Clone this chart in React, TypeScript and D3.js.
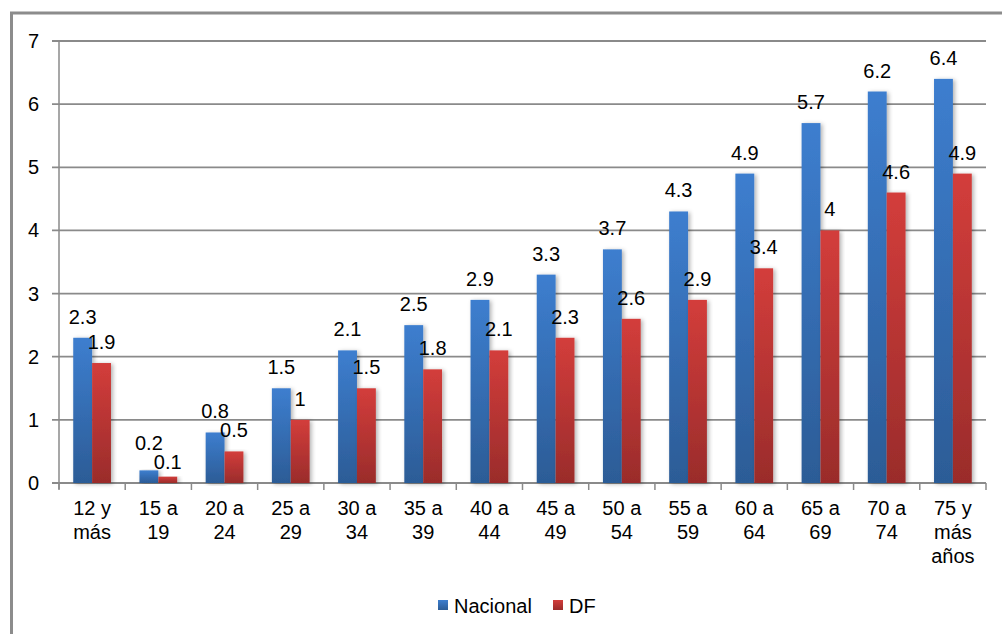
import React from "react";
import * as d3 from "d3";

const categories: string[][] = [
  ["12 y", "más"],
  ["15 a", "19"],
  ["20 a", "24"],
  ["25 a", "29"],
  ["30 a", "34"],
  ["35 a", "39"],
  ["40 a", "44"],
  ["45 a", "49"],
  ["50 a", "54"],
  ["55 a", "59"],
  ["60 a", "64"],
  ["65 a", "69"],
  ["70 a", "74"],
  ["75 y", "más", "años"],
];
const nacional = [2.3, 0.2, 0.8, 1.5, 2.1, 2.5, 2.9, 3.3, 3.7, 4.3, 4.9, 5.7, 6.2, 6.4];
const df = [1.9, 0.1, 0.5, 1, 1.5, 1.8, 2.1, 2.3, 2.6, 2.9, 3.4, 4, 4.6, 4.9];
const seriesNames = ["Nacional", "DF"];
const yTicks = [0, 1, 2, 3, 4, 5, 6, 7];

const W = 1002;
const H = 634;
const left = 59;
const right = 986;
const top = 41;
const bottom = 483;
const FONT = "'Liberation Sans', Arial, sans-serif";
const LABEL_GAP = 14;
const MIN_SEP = 19;

export default function App() {
  const keys = categories.map((c) => c.join(" "));
  const x0 = d3.scaleBand<string>().domain(keys).range([left, right]).padding(0);
  const bw = x0.bandwidth();
  const x1 = d3
    .scaleBand<string>()
    .domain(seriesNames)
    .range([bw * 0.215, bw * 0.785])
    .padding(0);
  const y = d3.scaleLinear().domain([0, 7]).range([bottom, top]);
  const series = [nacional, df];
  const fills = ["url(#gBlue)", "url(#gRed)"];

  // label positions with a simple collision spread inside each group
  const labelY = categories.map((_, i) => {
    let a = y(nacional[i]) - LABEL_GAP;
    let b = y(df[i]) - LABEL_GAP;
    if (Math.abs(a - b) < MIN_SEP) {
      const mid = (a + b) / 2;
      if (a <= b) {
        a = mid - MIN_SEP / 2;
        b = mid + MIN_SEP / 2;
      } else {
        b = mid - MIN_SEP / 2;
        a = mid + MIN_SEP / 2;
      }
    }
    return [a, b];
  });

  return (
    <svg
      width={W}
      height={H}
      style={{ position: "absolute", left: 0, top: 0, background: "#fff" }}
      fontFamily={FONT}
    >
      <defs>
        <linearGradient id="gBlue" x1="0" y1="0" x2="0" y2="1">
          <stop offset="0" stopColor="#3d7ecf" />
          <stop offset="1" stopColor="#2c5c96" />
        </linearGradient>
        <linearGradient id="gRed" x1="0" y1="0" x2="0" y2="1">
          <stop offset="0" stopColor="#d33d3b" />
          <stop offset="1" stopColor="#9a2c2b" />
        </linearGradient>
        <filter id="shadow" x="-30%" y="-5%" width="160%" height="110%">
          <feDropShadow dx="2" dy="1" stdDeviation="2" floodColor="#000" floodOpacity="0.3" />
        </filter>
      </defs>
      <rect x={11.5} y={13} width={1100} height={800} fill="none" stroke="#8c8c8c" strokeWidth={3} />

      {/* grid lines */}
      {yTicks.map((t) => (
        <line
          key={"g" + t}
          x1={left - 7}
          x2={right}
          y1={y(t)}
          y2={y(t)}
          stroke="#8a8a8a"
          strokeWidth={t === 0 ? 2 : 1.8}
        />
      ))}
      {/* y axis line */}
      <line x1={left} x2={left} y1={top} y2={bottom + 6} stroke="#8a8a8a" strokeWidth={1.5} />
      {/* x ticks */}
      {keys.concat(["end"]).map((k, i) => {
        const xx = i < keys.length ? (x0(k) as number) : right;
        return (
          <line key={"t" + i} x1={xx} x2={xx} y1={bottom} y2={bottom + 7} stroke="#8a8a8a" strokeWidth={1.5} />
        );
      })}
      {/* y tick labels */}
      {yTicks.map((t) => (
        <text key={"yl" + t} x={39} y={y(t) + 7} textAnchor="end" fontSize={20} fill="#000">
          {t}
        </text>
      ))}

      {/* bars */}
      {series.map((vals, si) =>
        vals.map((v, i) => {
          const bx = (x0(keys[i]) as number) + (x1(seriesNames[si]) as number);
          return (
            <rect
              key={"b" + si + "-" + i}
              x={bx}
              y={y(v)}
              width={x1.bandwidth()}
              height={y(0) - y(v)}
              fill={fills[si]}
              filter="url(#shadow)"
            />
          );
        })
      )}
      {/* value labels */}
      {series.map((vals, si) =>
        vals.map((v, i) => {
          const bx = (x0(keys[i]) as number) + (x1(seriesNames[si]) as number) + x1.bandwidth() / 2;
          return (
            <text key={"v" + si + "-" + i} x={bx} y={labelY[i][si]} textAnchor="middle" fontSize={20} fill="#000">
              {String(v)}
            </text>
          );
        })
      )}
      {/* category labels */}
      {categories.map((lines, i) => (
        <text
          key={"c" + i}
          x={(x0(keys[i]) as number) + bw / 2}
          y={515}
          textAnchor="middle"
          fontSize={20}
          fill="#000"
        >
          {lines.map((ln, j) => (
            <tspan key={j} x={(x0(keys[i]) as number) + bw / 2} dy={j === 0 ? 0 : 24}>
              {ln}
            </tspan>
          ))}
        </text>
      ))}

      {/* legend */}
      <g>
        <rect x={438} y={600} width={10} height={10} fill="url(#gBlue)" />
        <text x={454} y={613} fontSize={20} fill="#000">
          {seriesNames[0]}
        </text>
        <rect x={553} y={600} width={10} height={10} fill="url(#gRed)" />
        <text x={569} y={613} fontSize={20} fill="#000">
          {seriesNames[1]}
        </text>
      </g>
    </svg>
  );
}
